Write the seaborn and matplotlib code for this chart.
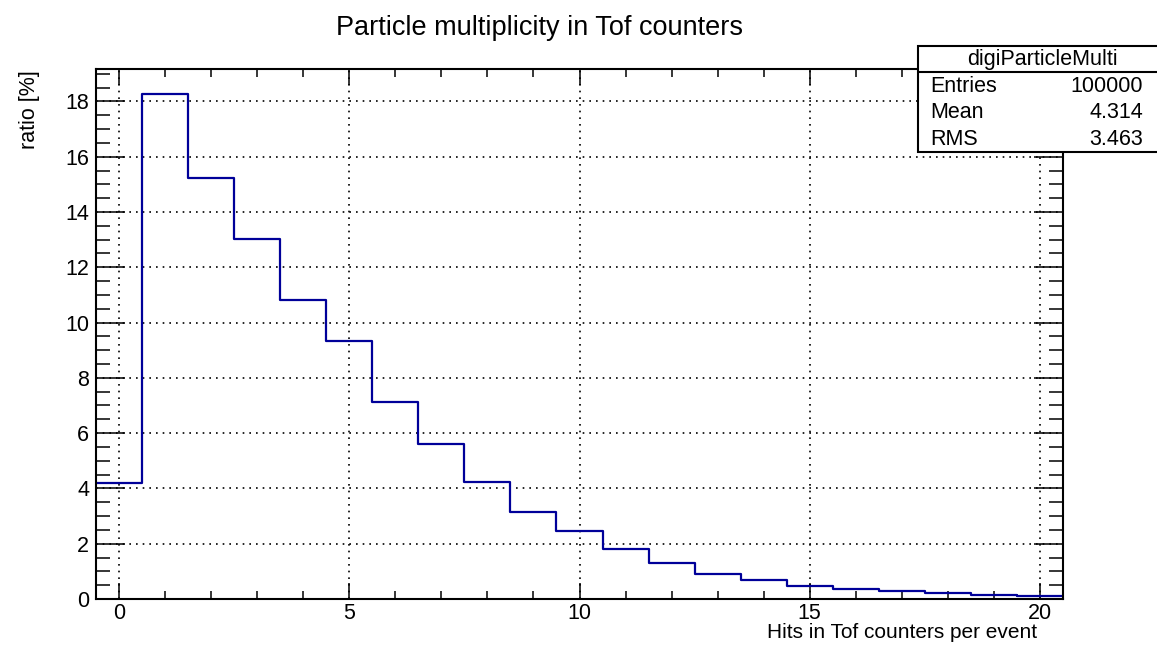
import numpy as np
import pandas as pd
import matplotlib
matplotlib.use("Agg")
import matplotlib.pyplot as plt
from matplotlib.patches import Rectangle
from matplotlib.lines import Line2D
from matplotlib.ticker import MultipleLocator
import seaborn as sns

# ---- data ----
hits = list(range(21))
ratio = [4.18, 18.26, 15.23, 13.04, 10.83, 9.35, 7.14, 5.60, 4.24, 3.15, 2.46,
         1.80, 1.29, 0.89, 0.69, 0.47, 0.37, 0.29, 0.22, 0.16, 0.12]
title = "Particle multiplicity in Tof counters"
xlabel = "Hits in Tof counters per event"
ylabel = "ratio [%]"
stats_name = "digiParticleMulti"
stats_labels = ["Entries", "Mean", "RMS"]
stats_values = ["100000", "4.314", "3.463"]

sns.set_theme(style="ticks")
plt.rcParams['font.family'] = ['Liberation Sans', 'DejaVu Sans']
plt.rcParams['text.color'] = 'black'
plt.rcParams['xtick.color'] = 'black'
plt.rcParams['ytick.color'] = 'black'
plt.rcParams['xtick.labelcolor'] = 'black'
plt.rcParams['ytick.labelcolor'] = 'black'

W, H = 1157, 645
fig = plt.figure(figsize=(W / 100, H / 100), dpi=100)
ax = fig.add_axes([96 / W, 1 - 599 / H, (1063 - 96) / W, (599 - 69) / H])

df = pd.DataFrame({"hits": hits, "ratio": ratio})
sns.histplot(data=df, x="hits", weights="ratio", discrete=True, element="step",
             fill=False, color="#000099", linewidth=1.6, ax=ax)

ax.set_xlim(-0.5, 20.5)
ax.set_ylim(0, max(ratio) * 1.05)
ax.set_xlabel("")
ax.set_ylabel("")

ax.xaxis.set_major_locator(MultipleLocator(5))
ax.xaxis.set_minor_locator(MultipleLocator(1))
ax.yaxis.set_major_locator(MultipleLocator(2))
ax.yaxis.set_minor_locator(MultipleLocator(0.5))

ax.tick_params(which='both', direction='in', top=True, right=True,
               colors='black', labelcolor='black', labelsize=15.5, width=1.1)
ax.tick_params(axis='y', which='major', length=20.9, pad=5)
ax.tick_params(axis='y', which='minor', length=10.4)
ax.tick_params(axis='x', which='major', length=11.5, pad=3)
ax.tick_params(axis='x', which='minor', length=5.8)

ax.grid(True, which='major', color='black', linestyle=(0, (1, 3)), linewidth=1.2)
for s in ax.spines.values():
    s.set_linewidth(1.5)
    s.set_color('black')

fig.text(540 / W, 1 - 35 / H, title, ha='center', va='baseline', fontsize=19.5, color='black')
fig.text(1037 / W, 1 - 633 / H, xlabel, ha='right', va='center', fontsize=15, color='black')
fig.text(30 / W, 1 - 70 / H, ylabel, ha='center', va='top', rotation=90, fontsize=15.5,
         color='black')

# stats box
x0, x1 = 918 / W, 1.0
y0, y1 = 1 - 152 / H, 1 - 46 / H
fig.patches.append(Rectangle((x0, y0), x1 - x0 + 0.01, y1 - y0, transform=fig.transFigure,
                             facecolor='white', edgecolor='black', linewidth=1.5, zorder=10))
fig.lines.append(Line2D([x0, 1.0], [1 - 72 / H] * 2, transform=fig.transFigure,
                        color='black', linewidth=1.5, zorder=11))
fig.text(1042 / W, 1 - 59 / H, stats_name, ha='center', va='center', fontsize=15.5,
         zorder=12, color='black')
rows_y = [86, 113, 140]
for lab, val, yy in zip(stats_labels, stats_values, rows_y):
    fig.text(930 / W, 1 - yy / H, lab, ha='left', va='center', fontsize=15.5, zorder=12,
             color='black')
    fig.text(1143 / W, 1 - yy / H, val, ha='right', va='center', fontsize=15.5, zorder=12,
             color='black')

fig.savefig("out.png", dpi=100)
